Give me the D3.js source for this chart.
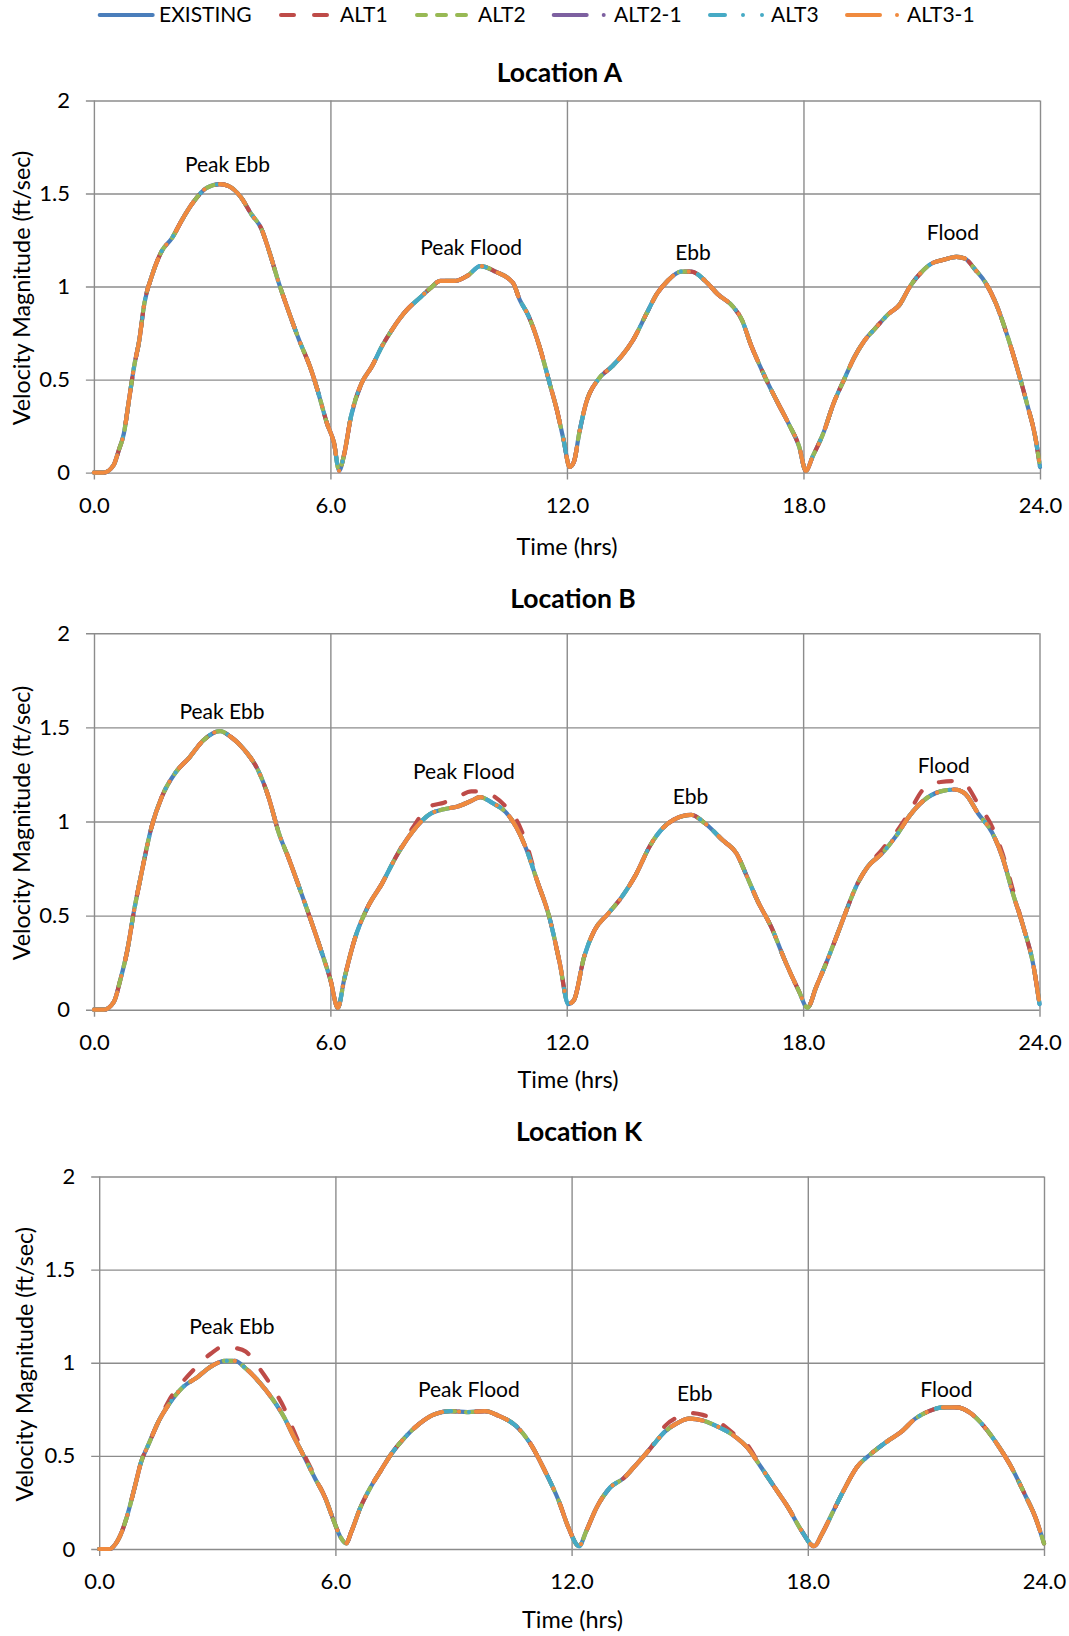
<!DOCTYPE html>
<html>
<head>
<meta charset="utf-8">
<script src="https://cdn.jsdelivr.net/npm/d3@7"></script>
<style>
  body { margin: 0; background: #fff; }
  text { font-family: Lato, "Open Sans", sans-serif; fill: #000; }
</style>
</head>
<body>
<svg id="chart" width="1069" height="1636"></svg>
<script>
// ---- Series and tick labels ----
const seriesNames = ["EXISTING", "ALT1", "ALT2", "ALT2-1", "ALT3", "ALT3-1"];
const xTickValues = [0, 6, 12, 18, 24];
const xTickLabels = ["0.0", "6.0", "12.0", "18.0", "24.0"];
const yTickValues = [0, 0.5, 1, 1.5, 2];
const yTickLabels = ["0", "0.5", "1", "1.5", "2"];
const panelTitles = ["Location A", "Location B", "Location K"];
const phaseNames = ["Peak Ebb", "Peak Flood", "Ebb", "Flood"];

// ---- Location A: velocity magnitude (ft/sec) vs time (hrs) ----
const hoursA = [0,0.25,0.5,0.63,0.76,0.89,1.02,1.15,1.28,1.46,1.72,1.98,2.24,2.51,2.86,3.2,3.42,3.73,3.99,4.25,
  4.43,4.69,4.95,5.21,5.48,5.65,5.92,6.09,6.22,6.35,6.52,6.79,7.05,7.31,7.57,7.92,8.27,8.53,8.79,9.14,
  9.49,9.8,10.19,10.63,10.8,11.03,11.3,11.56,11.74,11.91,12.07,12.18,12.31,12.48,12.79,13.14,13.4,13.67,14.02,14.28,
  14.55,14.9,15.16,15.51,15.82,16.22,16.44,16.66,16.84,17.1,17.36,17.63,17.89,18.06,18.24,18.5,18.76,19.03,19.29,19.55,
  19.82,20.17,20.43,20.7,20.96,21.22,21.57,21.88,22.1,22.36,22.62,22.88,23.15,23.41,23.67,23.89,24];
const existingA = [0,0,0.04,0.12,0.21,0.39,0.57,0.71,0.91,1.05,1.19,1.26,1.36,1.45,1.53,1.55,1.54,1.48,1.39,1.31,
  1.2,1.02,0.86,0.71,0.57,0.46,0.26,0.16,0.01,0.1,0.3,0.48,0.57,0.68,0.77,0.87,0.94,0.99,1.03,1.03,
  1.06,1.11,1.08,1.02,0.93,0.84,0.68,0.48,0.34,0.18,0.03,0.06,0.21,0.37,0.5,0.57,0.63,0.71,0.855,0.96,
  1.03,1.08,1.08,1.03,0.96,0.89,0.82,0.69,0.6,0.48,0.37,0.26,0.14,0.01,0.09,0.21,0.37,0.5,0.62,0.71,
  0.775,0.855,0.9,1,1.07,1.12,1.145,1.16,1.15,1.09,1.02,0.91,0.75,0.57,0.37,0.18,0.03];

// ---- Location B ----
const hoursB = [0,0.25,0.5,0.67,0.85,1.02,1.2,1.46,1.72,2.07,2.42,2.77,3.2,3.47,3.82,4.17,4.43,4.69,4.95,5.21,
  5.48,5.74,6,6.19,6.35,6.61,6.96,7.31,7.66,8.1,8.53,8.88,9.23,9.58,9.8,10.1,10.45,10.72,10.98,11.24,
  11.56,11.82,12.04,12.18,12.44,12.7,13.05,13.4,13.76,14.11,14.46,14.72,15.16,15.51,15.96,16.31,16.57,16.84,17.19,17.54,
  17.89,18.11,18.33,18.59,18.85,19.03,19.38,19.64,20,20.35,20.7,21.05,21.49,21.84,22.1,22.45,22.8,23.06,23.32,23.59,
  23.85,24];
const existingB = [0,0,0.04,0.16,0.32,0.53,0.72,0.97,1.13,1.26,1.34,1.43,1.48,1.45,1.38,1.27,1.13,0.94,0.8,0.65,
  0.49,0.33,0.16,0.01,0.16,0.37,0.55,0.67,0.81,0.95,1.04,1.065,1.08,1.11,1.13,1.1,1.05,0.97,0.85,0.69,
  0.49,0.25,0.03,0.05,0.28,0.42,0.51,0.6,0.72,0.87,0.97,1.01,1.035,0.99,0.9,0.83,0.71,0.58,0.44,0.26,
  0.1,0.01,0.12,0.25,0.39,0.49,0.67,0.76,0.83,0.92,1.03,1.11,1.16,1.17,1.15,1.04,0.94,0.81,0.62,0.44,
  0.23,0.03];
const alt1B = [0,0,0.04,0.16,0.32,0.53,0.72,0.97,1.13,1.26,1.34,1.43,1.48,1.45,1.38,1.27,1.13,0.94,0.8,0.65,
  0.49,0.33,0.16,0.01,0.16,0.37,0.55,0.67,0.81,0.97,1.08,1.1,1.13,1.16,1.16,1.14,1.08,1.01,0.88,0.69,
  0.49,0.25,0.03,0.05,0.28,0.42,0.51,0.6,0.72,0.87,0.97,1.01,1.035,0.99,0.9,0.83,0.71,0.58,0.44,0.26,
  0.1,0.01,0.12,0.25,0.39,0.49,0.67,0.76,0.85,0.94,1.05,1.17,1.21,1.215,1.2,1.09,0.97,0.83,0.64,0.44,
  0.23,0.03];

// ---- Location K ----
const hoursK = [0,0.28,0.37,0.55,0.72,0.9,1.07,1.25,1.52,1.78,2.13,2.48,2.84,3.19,3.45,3.72,4.07,4.42,4.69,4.95,
  5.22,5.48,5.74,5.96,6.14,6.27,6.41,6.63,6.89,7.15,7.42,7.77,8.12,8.48,8.92,9.36,9.8,10.15,10.59,10.94,
  11.32,11.67,11.93,12.19,12.37,12.63,12.98,13.32,13.67,14.02,14.37,14.72,14.98,15.33,15.68,16.11,16.46,16.81,17.16,17.51,
  17.85,18.16,18.37,18.64,18.9,19.25,19.6,20.03,20.38,20.73,21.08,21.43,21.78,22.13,22.47,22.82,23.17,23.52,23.78,24];
const existingK = [0,0,0.015,0.08,0.185,0.33,0.47,0.56,0.69,0.78,0.87,0.92,0.98,1.01,1.01,0.97,0.895,0.8,0.71,0.6,
  0.49,0.38,0.275,0.15,0.06,0.03,0.095,0.22,0.33,0.42,0.51,0.6,0.67,0.72,0.74,0.735,0.74,0.715,0.66,0.57,
  0.42,0.26,0.11,0.015,0.095,0.22,0.33,0.38,0.46,0.545,0.63,0.68,0.7,0.69,0.66,0.61,0.545,0.44,0.33,0.22,
  0.095,0.015,0.085,0.2,0.31,0.44,0.51,0.58,0.63,0.7,0.74,0.76,0.76,0.73,0.66,0.56,0.44,0.29,0.17,0.03];
const alt1K = [0,0,0.015,0.08,0.185,0.33,0.47,0.56,0.69,0.8,0.9,0.98,1.05,1.09,1.08,1.06,0.97,0.86,0.76,0.63,
  0.5,0.39,0.275,0.15,0.06,0.03,0.095,0.22,0.33,0.42,0.51,0.6,0.67,0.72,0.74,0.735,0.74,0.715,0.66,0.57,
  0.42,0.26,0.11,0.015,0.095,0.22,0.33,0.38,0.46,0.545,0.66,0.71,0.73,0.72,0.69,0.62,0.56,0.44,0.33,0.22,
  0.095,0.015,0.085,0.2,0.31,0.44,0.51,0.58,0.63,0.7,0.74,0.76,0.76,0.73,0.66,0.56,0.44,0.29,0.17,0.03];

// Phase label anchors in data units (hours, ft/sec), one per phase name
const phaseHoursA = [3.39, 9.57, 15.2, 21.79];
const phaseValuesA = [1.653, 1.209, 1.182, 1.288];
const phaseHoursB = [3.25, 9.39, 15.14, 21.57];
const phaseValuesB = [1.583, 1.265, 1.132, 1.296];
const phaseHoursK = [3.37, 9.39, 15.13, 21.52];
const phaseValuesK = [1.192, 0.854, 0.832, 0.854];

// ---- Styles ----
const seriesColors = ["#4A7EBB", "#BE4B48", "#98B954", "#7D60A0", "#46AAC5", "#F08A3E"];
const seriesDash = [null, "13 20", "9 11", "33 17 0 17", "15 18 0 19 0 18", "33 17 0 17"];
const gridColor = "#8C8C8C";

// Panel geometry (pixels)
const layouts = [
  { left: 93.9, right: 1040, top: 100.5, bottom: 472.6, titleX: 559.5, titleY: 72.7, xTitleX: 567, xTitleY: 546.7, yTitleX: 22 },
  { left: 94.0, right: 1039.5, top: 633.3, bottom: 1009.7, titleX: 573, titleY: 599, xTitleX: 568, xTitleY: 1079.3, yTitleX: 22 },
  { left: 99.2, right: 1044, top: 1176.5, bottom: 1549, titleX: 579, titleY: 1132, xTitleX: 572.5, xTitleY: 1620, yTitleX: 25 }
];

const panels = [
  { hours: hoursA, series: [existingA, existingA, existingA, existingA, existingA, existingA], ph: phaseHoursA, pv: phaseValuesA },
  { hours: hoursB, series: [existingB, alt1B, existingB, existingB, existingB, existingB], ph: phaseHoursB, pv: phaseValuesB },
  { hours: hoursK, series: [existingK, alt1K, existingK, existingK, existingK, existingK], ph: phaseHoursK, pv: phaseValuesK }
];

const svg = d3.select("#chart");
svg.append("rect").attr("width", 1069).attr("height", 1636).attr("fill", "#fff");

// ---- Legend ----
const legendSampleX = [99.7, 281, 417, 553.7, 710, 847];
const legendTextX = [159, 340, 478, 614, 771, 907];
const legend = svg.append("g").attr("class", "legend");
seriesNames.forEach((name, i) => {
  legend.append("line")
    .attr("x1", legendSampleX[i]).attr("x2", legendSampleX[i] + 53)
    .attr("y1", 15).attr("y2", 15)
    .attr("stroke", seriesColors[i]).attr("stroke-width", 4)
    .attr("stroke-linecap", "round")
    .attr("stroke-dasharray", seriesDash[i]);
  legend.append("text")
    .attr("x", legendTextX[i]).attr("y", 15).attr("dy", "0.35em")
    .attr("font-size", 21).text(name);
});

// ---- Panels ----
panels.forEach((p, pi) => {
  const L = layouts[pi];
  const w = L.right - L.left, h = L.bottom - L.top;
  const x = d3.scaleLinear().domain([0, 24]).range([L.left, L.right]);
  const y = d3.scaleLinear().domain([0, 2]).range([L.bottom, L.top]);
  const g = svg.append("g");

  // Horizontal gridlines with outside ticks and value labels
  const yAxis = d3.axisLeft(y).tickValues(yTickValues)
    .tickFormat((d, i) => yTickLabels[i]).tickSizeInner(-w).tickSizeOuter(0).tickPadding(24);
  const ya = g.append("g").attr("transform", `translate(${L.left},0)`).call(yAxis);
  ya.select(".domain").remove();
  ya.selectAll(".tick line").attr("x1", -8).attr("stroke", gridColor).attr("stroke-width", 1.4);
  ya.selectAll(".tick text").attr("font-size", 22).attr("font-family", "Lato").attr("fill", "#000");

  // Vertical gridlines with outside ticks and hour labels
  const xAxis = d3.axisBottom(x).tickValues(xTickValues)
    .tickFormat((d, i) => xTickLabels[i]).tickSizeInner(-h).tickSizeOuter(0);
  const xa = g.append("g").attr("transform", `translate(0,${L.bottom})`).call(xAxis);
  xa.select(".domain").remove();
  xa.selectAll(".tick line").attr("y1", 7).attr("stroke", gridColor).attr("stroke-width", 1.4);
  xa.selectAll(".tick text").attr("y", 32.5).attr("dy", "0.35em")
    .attr("font-size", 22).attr("font-family", "Lato").attr("fill", "#000");

  // Series lines, EXISTING first so ALT3-1 ends up on top
  const line = d3.line().x(d => x(d[0])).y(d => y(d[1])).curve(d3.curveMonotoneX);
  p.series.forEach((vals, si) => {
    const pts = p.hours.map((t, k) => [t, vals[k]]);
    g.append("path").datum(pts)
      .attr("d", line)
      .attr("fill", "none")
      .attr("stroke", seriesColors[si])
      .attr("stroke-width", 4.2)
      .attr("stroke-linecap", "round")
      .attr("stroke-linejoin", "round")
      .attr("stroke-dasharray", seriesDash[si]);
  });

  // Tide phase labels
  phaseNames.forEach((nm, k) => {
    g.append("text")
      .attr("x", x(p.ph[k])).attr("y", y(p.pv[k])).attr("dy", "0.35em")
      .attr("text-anchor", "middle").attr("font-size", 21).text(nm);
  });

  // Titles
  g.append("text").attr("x", L.titleX).attr("y", L.titleY).attr("dy", "0.35em")
    .attr("text-anchor", "middle").attr("font-size", 26.5).attr("font-weight", "bold")
    .text(panelTitles[pi]);
  g.append("text").attr("x", L.xTitleX).attr("y", L.xTitleY).attr("dy", "0.35em")
    .attr("text-anchor", "middle").attr("font-size", 23.5).text("Time (hrs)");
  g.append("text")
    .attr("transform", `translate(${L.yTitleX},${(L.top + L.bottom) / 2 + 1.5}) rotate(-90)`)
    .attr("dy", "0.35em").attr("text-anchor", "middle").attr("font-size", 23.3)
    .text("Velocity Magnitude (ft/sec)");
});
</script>
</body>
</html>
